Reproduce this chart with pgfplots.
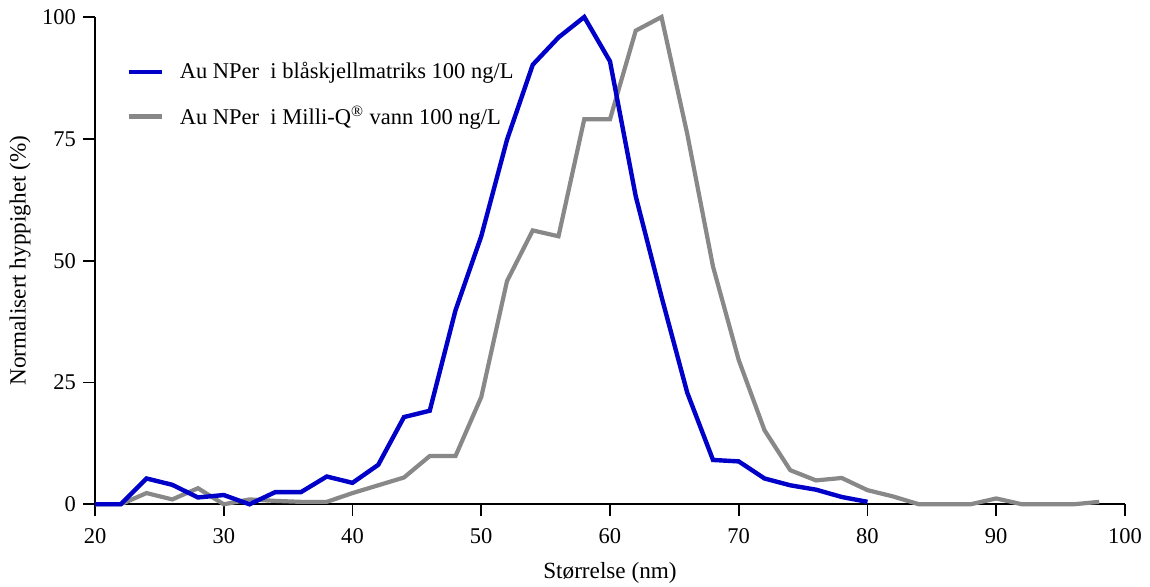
\documentclass[border=0pt]{standalone}
\usepackage{fontspec}
\setmainfont{Liberation Serif}
\usepackage{pgfplots}
\pgfplotsset{compat=1.18}
\definecolor{serblue}{RGB}{0,0,200}
\definecolor{sergray}{RGB}{136,136,136}
\begin{document}
\begin{tikzpicture}
\path[use as bounding box] (0,0) rectangle (575pt,293.5pt);
\begin{axis}[
  at={(47.5pt,41.35pt)}, anchor=south west,
  scale only axis, width=515pt, height=243.65pt,
  xmin=20, xmax=100, ymin=0, ymax=100,
  clip=false,
  axis x line*=bottom, axis y line*=left,
  axis line style={line width=0.9pt,-},
  every tick/.style={line width=0.9pt, black},
  tick align=outside, major tick length=6pt,
  xtick={20,30,...,100}, ytick={0,25,50,75,100},
  /pgf/number format/assume math mode=true,
  tick label style={font=\fontsize{11.25}{13}\selectfont},
  xticklabel style={yshift=-2.5pt},
  label style={font=\fontsize{11.6}{13}\selectfont},
  xlabel={Størrelse (nm)},
  ylabel={Normalisert hyppighet (\%)},
  xlabel style={at={(axis description cs:0.5,-0.1417)}, anchor=center},
  ylabel style={at={(axis description cs:-0.0728,0.5)}, anchor=center},
  legend style={draw=none, fill=none, at={(axis description cs:0.0243,0.924)}, anchor=north west,
    font=\fontsize{11.25}{13}\selectfont, row sep=8pt},
  legend cell align=left,
  legend image code/.code={\draw[#1] (0pt,0pt) -- (16.5pt,0pt); \path (22.5pt,0pt);},
]
\addlegendimage{serblue, line width=2.2pt}
\addlegendentry{Au NPer\ \ i blåskjellmatriks 100 ng/L}
\addlegendimage{sergray, line width=2.2pt}
\addlegendentry{Au NPer\ \ i Milli-Q\textsuperscript{®} vann 100 ng/L}
\addplot[sergray, line width=2.1pt, forget plot] coordinates {
(20,0) (22,0) (24,2.3) (26,1.0) (28,3.3) (30,0) (32,1.0) (34,0.7) (36,0.5) (38,0.5)
(40,2.3) (42,3.9) (44,5.5) (46,9.9) (48,9.9) (50,22) (52,45.8) (54,56.2) (56,55)
(58,79) (60,79) (62,97.2) (64,100) (66,76) (68,48.8) (70,29.6) (72,15.2) (74,7.0)
(76,4.9) (78,5.4) (80,2.9) (82,1.6) (84,0) (86,0) (88,0) (90,1.2) (92,0) (94,0)
(96,0) (98,0.5)
};
\addplot[serblue, line width=2.2pt, forget plot] coordinates {
(20,0) (22,0) (24,5.3) (26,4.0) (28,1.4) (30,1.9) (32,0) (34,2.5) (36,2.5) (38,5.7)
(40,4.4) (42,8.1) (44,17.9) (46,19.2) (48,39.8) (50,55) (52,74.8) (54,90.2) (56,95.8)
(58,100) (60,90.9) (62,63.2) (64,42.6) (66,22.9) (68,9.1) (70,8.8) (72,5.3) (74,3.9)
(76,3.0) (78,1.5) (80,0.5)
};
\end{axis}
\end{tikzpicture}
\end{document}
